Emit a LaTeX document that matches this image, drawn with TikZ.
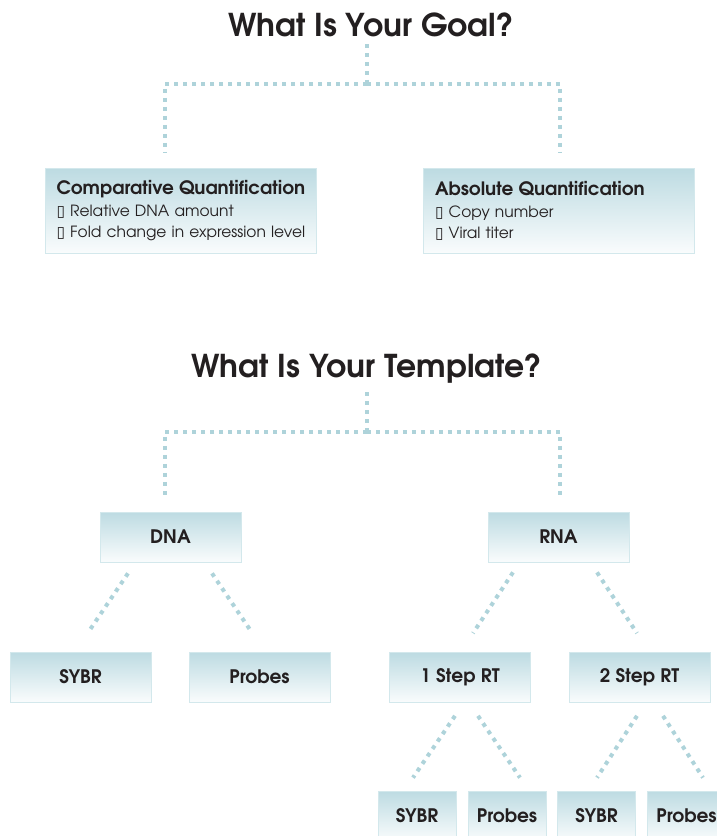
\documentclass[tikz,border=0pt]{standalone}
\usepackage{fontspec}
\setmainfont{TeX Gyre Adventor}
\newfontfamily\symfont{DejaVu Sans}
\usetikzlibrary{calc}

\definecolor{linkblue}{HTML}{AED3DA}
\definecolor{boxtop}{HTML}{BDDBE2}
\definecolor{boxline}{HTML}{D3E8EC}
\definecolor{ink}{HTML}{231F20}

\tikzset{
  link/.style={linkblue, line width=0.08cm, dash pattern=on 0.08cm off 0.1cm},
  box/.style={draw=boxline, thin, top color=boxtop, bottom color=boxtop!8!white,
    minimum width=2.82cm, minimum height=1cm, text=ink,
    font=\bfseries\fontsize{10.6}{12}\selectfont},
  smallbox/.style={box, minimum width=1.56cm},
  goalbox/.style={box, minimum width=5.42cm, minimum height=1.7cm, inner xsep=0.23cm,
    text width=4.96cm, align=left, font=\fontsize{8.8}{12.2}\selectfont},
  title/.style={anchor=base, text=ink, font=\bfseries\fontsize{17.9}{20}\selectfont}
}
\newcommand{\goalhead}[1]{\mbox{\bfseries\fontsize{10.5}{12}\selectfont #1}}
\newcommand{\goalitem}[1]{\mbox{{\symfont ▯}\ #1}}

\begin{document}
\begin{tikzpicture}[x=0.02cm, y=-0.02cm]
  % 背景与边界
  \fill[white] (0, 0) rectangle (717, 836);
  \useasboundingbox (0, 0) rectangle (717, 836);
  \clip (0, 0) rectangle (717, 836);

  % 目标
  \node[title] (goal) at (371, 36) {What Is Your Goal?};
  \coordinate (hubA) at (367, 84);
  \node[goalbox] (comp) at (180.5, 211) {\goalhead{Comparative Quantification}\\
    \goalitem{Relative DNA amount}\\ \goalitem{Fold change in expression level}};
  \node[goalbox] (abs) at (559, 211) {\goalhead{Absolute Quantification}\\
    \goalitem{Copy number}\\ \goalitem{Viral titer}};

  \draw[link] (goal.base -| hubA) ++(0, 8) -- (hubA);
  \draw[link] (hubA) -| ($(comp.north)+(-15.5, -16)$);
  \draw[link] (hubA) -| ($(abs.north)+(1, -16)$);

  % 模板
  \node[title] (tmpl) at (367, 377) {What Is Your Template?};
  \coordinate (hubB) at (367, 432);
  \node[box] (dna) at (170.5, 537) {DNA};
  \node[box] (rna) at (558.5, 537) {RNA};

  \draw[link] ($(tmpl.base)+(0, 15)$) -- (hubB);
  \draw[link] (hubB) -| ($(dna.north)+(-5.5, -12)$);
  \draw[link] (hubB) -| ($(rna.north)+(1.5, -12)$);

  % 第二层
  \node[box] (sybrA) at (80.5, 677) {SYBR};
  \node[box] (probesA) at (259.5, 677) {Probes};
  \node[box] (rtone) at (460, 677.5) {1 Step RT};
  \node[box] (rttwo) at (639.5, 677.5) {2 Step RT};

  \draw[link] ($(dna.south)+(-42.5, 11)$) -- ($(sybrA.north)+(7.5, -19)$);
  \draw[link] ($(dna.south)+(41.5, 11)$) -- ($(probesA.north)+(-7.5, -19)$);
  \draw[link] ($(rna.south)+(-45.5, 10)$) -- ($(rtone.north)+(13, -19)$);
  \draw[link] ($(rna.south)+(38.5, 10)$) -- ($(rttwo.north)+(-2.5, -19)$);

  % 第三层
  \node[smallbox] (sybrB) at (417, 816) {SYBR};
  \node[smallbox] (probesB) at (507, 816) {Probes};
  \node[smallbox] (sybrC) at (596.5, 816) {SYBR};
  \node[smallbox] (probesC) at (686.5, 816) {Probes};

  \draw[link] ($(rtone.south)+(-5, 13)$) -- ($(sybrB.north)+(-4, -13)$);
  \draw[link] ($(rtone.south)+(18, 13)$) -- ($(probesB.north)+(13, -13)$);
  \draw[link] ($(rttwo.south)+(-2.5, 13)$) -- ($(sybrC.north)+(0.5, -13)$);
  \draw[link] ($(rttwo.south)+(23.5, 13)$) -- ($(probesC.north)+(16.5, -13)$);

\end{tikzpicture}
\end{document}
